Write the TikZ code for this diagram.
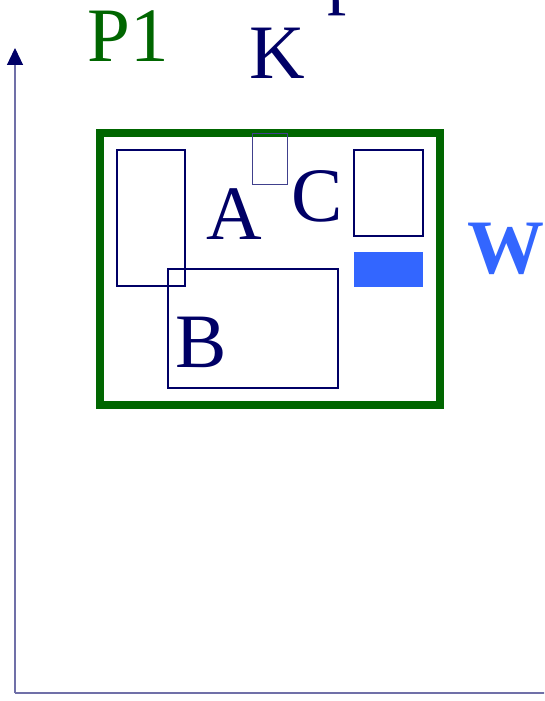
\documentclass[tikz,border=0pt]{standalone}
\usepackage{fontspec}
\setmainfont{Liberation Serif}
\usetikzlibrary{arrows.meta}
\definecolor{navy}{HTML}{000066}
\definecolor{axisc}{HTML}{7070A8}
\definecolor{dgreen}{HTML}{006600}
\definecolor{wblue}{HTML}{3366FF}
\tikzset{
  lbl/.style={inner sep=0pt, anchor=base, font=\fontsize{77}{80}\selectfont},
  navybox/.style={draw=navy, line width=1.6pt},
}
\begin{document}
\begin{tikzpicture}[x=1pt,y=-1pt]
\useasboundingbox (0,0) rectangle (544,701);
\clip (0,0) rectangle (544,701);
% axes
\coordinate (o) at (15,693);
\coordinate (ytop) at (15,48);
\coordinate (xend) at (545,693);
\draw[axisc, line width=1.2pt] (o) -- (xend);
\draw[axisc, line width=1.2pt, -{Triangle[length=17pt,width=16pt,fill=navy,color=navy]}] (o) -- (ytop);
% green frame
\draw[dgreen, line width=8pt] (100,133) rectangle (440,405);
% boxes
\draw[navybox] (117,150) rectangle (185,286);
\draw[navybox] (168,269) rectangle (338,388);
\draw[draw=navy!75, line width=1pt] (252,133) rectangle (287,184);
\draw[navybox] (354,150) rectangle (423,236);
\fill[wblue] (354,252) rectangle (423,287);
% labels
\node[lbl, navy] (A) at (234,239) {A};
\node[lbl, navy] (C) at (317,221) {C};
\node[lbl, navy] (B) at (201,367) {B};
\node[lbl, navy] (K) at (277,78) {K};
\node[lbl, dgreen] (P1) at (128,62) {P1};
\node[lbl, wblue, font=\fontsize{77}{80}\selectfont\bfseries] (W) at (506,273) {W};
\node[lbl, navy, anchor=base west] (title) at (141,0) {Free space};
\end{tikzpicture}
\end{document}
